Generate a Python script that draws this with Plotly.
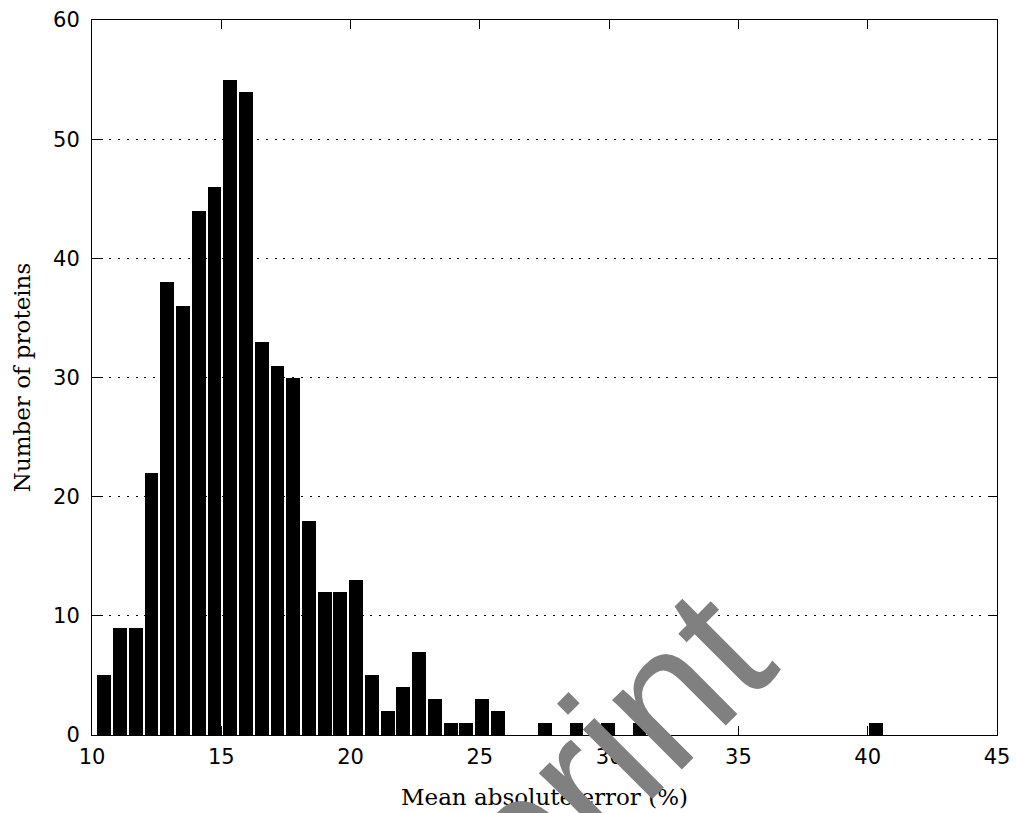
import numpy as np
import plotly.graph_objects as go

# Histogram of mean absolute error (%) — 50 bins between data min and max
data_min = 10.17
data_max = 40.61
n_bins = 50
counts = [5, 9, 9, 22, 38, 36, 44, 46, 55, 54,
          33, 31, 30, 18, 12, 12, 13, 5, 2, 4,
          7, 3, 1, 1, 3, 2, 0, 0, 1, 0,
          1, 0, 1, 0, 1, 0, 0, 0, 0, 0,
          0, 0, 0, 0, 0, 0, 0, 0, 0, 1]
x_ticks = [10, 15, 20, 25, 30, 35, 40, 45]
y_ticks = [0, 10, 20, 30, 40, 50, 60]
x_title = "Mean absolute error (%)"
y_title = "Number of proteins"
watermark = "Preprint"

bin_w = (data_max - data_min) / n_bins
centers = data_min + bin_w * (np.arange(n_bins) + 0.5)

fig = go.Figure()
fig.add_trace(go.Bar(
    x=centers, y=counts, width=bin_w * 0.88,
    marker=dict(color="black", line=dict(width=0)),
    showlegend=False, hoverinfo="skip",
))

tick_font = dict(family="DejaVu Sans", size=21, color="black")
title_font = dict(family="DejaVu Serif", size=23, color="black")

fig.update_xaxes(
    range=[10, 45], tickvals=x_ticks, ticktext=[str(v) for v in x_ticks],
    ticks="inside", ticklen=9, tickwidth=1, tickcolor="black",
    showline=True, linecolor="black", linewidth=1, mirror="ticks",
    showgrid=False, zeroline=False, tickfont=tick_font, ticklabelstandoff=3,
    title=dict(text=x_title, font=title_font, standoff=20), automargin=False,
)
fig.update_yaxes(
    range=[0, 60], tickvals=y_ticks, ticktext=[str(v) for v in y_ticks],
    ticks="inside", ticklen=9, tickwidth=1, tickcolor="black",
    showline=True, linecolor="black", linewidth=1, mirror="ticks",
    showgrid=True, gridcolor="black", gridwidth=1, griddash="2px,6.7px",
    zeroline=False, tickfont=tick_font, ticklabelstandoff=7,
    title=dict(text=y_title, font=title_font, standoff=16), automargin=False,
)

fig.add_annotation(
    text=watermark, xref="paper", yref="paper", x=0.458, y=-0.166,
    xanchor="center", yanchor="middle", showarrow=False, textangle=-45,
    font=dict(family="Liberation Sans", size=186, color="#808080"),
)

fig.update_layout(
    width=1016, height=813,
    margin=dict(l=92, r=19, t=20, b=78),
    paper_bgcolor="white", plot_bgcolor="white",
    bargap=0,
)

fig.write_html("out.html")
